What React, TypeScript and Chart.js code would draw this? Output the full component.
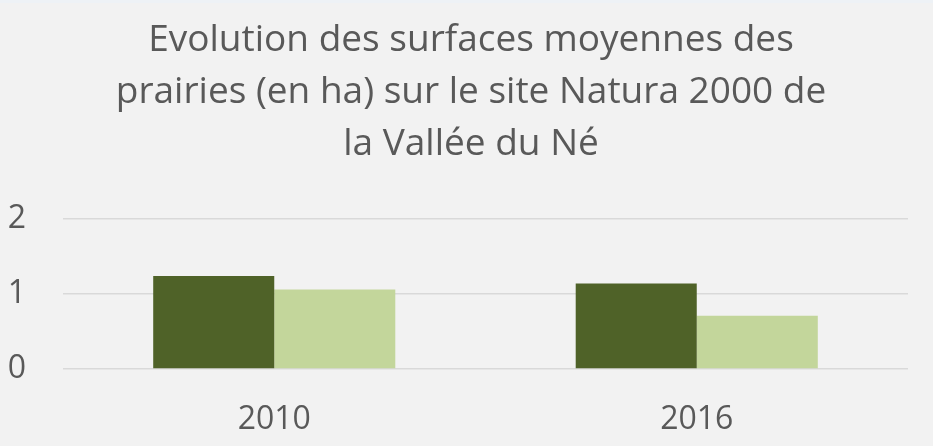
import React, { useEffect, useRef } from "react";
import { Chart, registerables } from "chart.js";

Chart.register(...registerables);

const categories = ["2010", "2016"];
const seriesA = [1.24, 1.14];
const seriesB = [1.06, 0.71];
const titleLines = [
  "Evolution des surfaces moyennes des",
  "prairies (en ha) sur le site Natura 2000 de",
  "la Vallée du Né",
];

const bgPlugin = {
  id: "bgFill",
  beforeDraw(chart: any) {
    const { ctx, width, height } = chart;
    ctx.save();
    ctx.fillStyle = "#f2f2f2";
    ctx.fillRect(0, 0, width, height);
    ctx.fillStyle = "#eef2f6";
    ctx.fillRect(0, 0, width, 3);
    ctx.restore();
  },
};

export default function App() {
  const ref = useRef<HTMLCanvasElement | null>(null);
  useEffect(() => {
    document.body.style.margin = "0";
    const font = "'Open Sans', sans-serif";
    const chart = new Chart(ref.current as HTMLCanvasElement, {
      type: "bar",
      data: {
        labels: categories,
        datasets: [
          { label: "A", data: seriesA, backgroundColor: "#4f6228", categoryPercentage: 0.573, barPercentage: 1 },
          { label: "B", data: seriesB, backgroundColor: "#c3d69b", categoryPercentage: 0.573, barPercentage: 1 },
        ],
      },
      options: {
        animation: false,
        responsive: false,
        maintainAspectRatio: false,
        layout: { padding: { left: 9, right: 0, top: 0, bottom: 0 } },
        plugins: {
          legend: { display: false },
          tooltip: { enabled: false },
          title: {
            display: true,
            text: titleLines,
            color: "#595959",
            font: { family: font, size: 37, weight: "normal", lineHeight: 1.405 },
            padding: { top: 14, bottom: 49 },
          },
        },
        scales: {
          x: {
            grid: { display: false, drawTicks: false },
            border: { display: false },
            ticks: { color: "#595959", font: { family: font, size: 32 }, padding: 32 },
            afterFit(scale: any) {
              scale.height = 77;
            },
          },
          y: {
            min: 0,
            max: 2,
            ticks: { stepSize: 1, color: "#595959", font: { family: font, size: 32 }, padding: 37 },
            grid: { color: "#d9d9d9", lineWidth: 1.5, drawTicks: false },
            border: { display: false },
            afterFit(scale: any) {
              scale.width = 54;
            },
          },
          yRight: {
            position: "right",
            display: true,
            min: 0,
            max: 2,
            ticks: { display: false },
            grid: { display: false, drawTicks: false },
            border: { display: false },
            afterFit(scale: any) {
              scale.width = 25;
            },
          },
        },
      },
      plugins: [bgPlugin],
    } as any);
    return () => chart.destroy();
  }, []);
  return <canvas ref={ref} width={933} height={446} style={{ display: "block" }} />;
}
